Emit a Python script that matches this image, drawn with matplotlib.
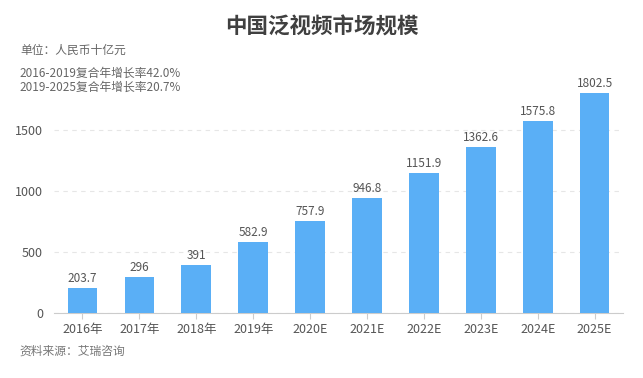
import matplotlib.pyplot as plt

plt.rcParams['font.family'] = ['Noto Sans CJK SC', 'DejaVu Sans']

# 数据
years = ['2016年', '2017年', '2018年', '2019年', '2020E', '2021E', '2022E', '2023E', '2024E', '2025E']
values = [203.7, 296, 391, 582.9, 757.9, 946.8, 1151.9, 1362.6, 1575.8, 1802.5]
labels = ['203.7', '296', '391', '582.9', '757.9', '946.8', '1151.9', '1362.6', '1575.8', '1802.5']
yticks = [0, 500, 1000, 1500]

fig = plt.figure(figsize=(6.43, 3.78), dpi=100)
ax = fig.add_axes([0.084, 0.172, 0.885, 0.645])

x = range(len(years))
ax.bar(x, values, width=0.52, color='#5aaff6', zorder=3)
for i, v in enumerate(values):
    ax.text(i, v + 25, labels[i], ha='center', va='bottom', fontsize=8.5, color='#555555')

ax.set_xlim(-0.5, len(years) - 0.5)
ax.set_ylim(0, 2000)
ax.set_yticks(yticks)
ax.set_xticks(list(x))
ax.set_xticklabels(years)
ax.tick_params(axis='x', length=4, color='#cccccc', labelsize=9, labelcolor='#555555', pad=3)
ax.tick_params(axis='y', length=0, labelsize=9, labelcolor='#555555', pad=8)
ax.yaxis.grid(True, linestyle=(0, (4, 4)), color='#e6e6e6', linewidth=0.8, zorder=0)

for s in ['top', 'right', 'left']:
    ax.spines[s].set_visible(False)
ax.spines['bottom'].set_color('#cccccc')

# 文字
fig.text(0.5, 0.928, '中国泛视频市场规模', ha='center', va='center', fontsize=15.5,
         fontweight='bold', color='#404040')
fig.text(0.031, 0.868, '单位：人民币十亿元', ha='left', va='center', fontsize=8.5, color='#666666')
fig.text(0.031, 0.806, '2016-2019复合年增长率42.0%', ha='left', va='center', fontsize=8.5, color='#666666')
fig.text(0.031, 0.769, '2019-2025复合年增长率20.7%', ha='left', va='center', fontsize=8.5, color='#666666')
fig.text(0.031, 0.072, '资料来源：艾瑞咨询', ha='left', va='center', fontsize=8.5, color='#777777')

fig.savefig('out.png', dpi=100)
